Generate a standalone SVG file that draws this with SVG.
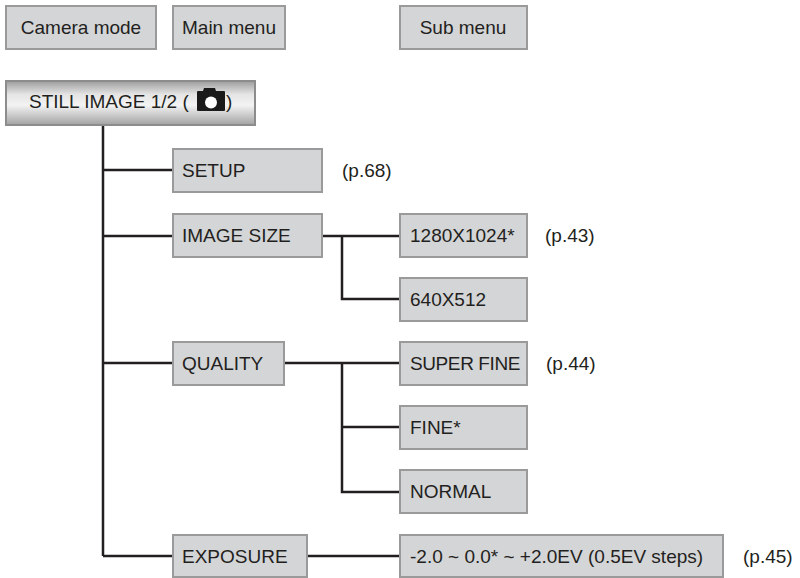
<svg xmlns="http://www.w3.org/2000/svg" width="800" height="578" viewBox="0 0 800 578">
<defs>
<linearGradient id="g" x1="0" y1="0" x2="0" y2="1">
<stop offset="0" stop-color="#9c9c9c"/>
<stop offset="0.3" stop-color="#e4e4e4"/>
<stop offset="0.55" stop-color="#f3f3f3"/>
<stop offset="1" stop-color="#a2a2a2"/>
</linearGradient>
</defs>
<style>
.b{fill:#d4d5d7;stroke:#9a9a9a;stroke-width:2}
.t{font-family:"Liberation Sans",Arial,sans-serif;font-size:19px;fill:#231f20}
.c{text-anchor:middle}
.l{fill:none;stroke:#231f20;stroke-width:2.5}
</style>
<rect width="800" height="578" fill="#fff"/>
<g id="connectors">
<path class="l" d="M103 125V556M103 170H172M103 236H172M103 363H172M103 556H172"/>
<path class="l" d="M322 236H399M342 236V299H399"/>
<path class="l" d="M284 363H399M342 363V492H399M342 427H399"/>
<path class="l" d="M307 556H399"/>
</g>
<g id="camera-mode"><rect class="b" x="6" y="6" width="150" height="43"/><text class="t c" x="81" y="34">Camera mode</text></g>
<g id="main-menu"><rect class="b" x="173" y="6" width="112" height="43"/><text class="t c" x="229" y="34">Main menu</text></g>
<g id="sub-menu"><rect class="b" x="400" y="6" width="127" height="43"/><text class="t c" x="463" y="34">Sub menu</text></g>
<g id="still-image">
<rect x="6" y="81" width="249" height="44" fill="url(#g)" stroke="#8c8c8c" stroke-width="2"/>
<text class="t" x="29" y="108">STILL IMAGE 1/2 (</text>
<path d="M198 91H203L204 88H215L216 91H224Q225 91 225 92V110Q225 111 224 111H198Q197 111 197 110V92Q197 91 198 91Z" fill="#1a1a1a"/>
<circle cx="211" cy="102.5" r="6" fill="#fff"/>
<text class="t" x="226" y="108">)</text>
</g>
<g id="setup"><rect class="b" x="173" y="149" width="149" height="43"/><text class="t" x="182" y="177">SETUP</text></g>
<text class="t" x="342" y="177">(p.68)</text>
<g id="image-size"><rect class="b" x="173" y="214" width="149" height="43"/><text class="t" x="182" y="242">IMAGE SIZE</text></g>
<g id="r1280"><rect class="b" x="400" y="214" width="127" height="43"/><text class="t" x="410" y="242">1280X1024*</text></g>
<text class="t" x="545" y="242">(p.43)</text>
<g id="r640"><rect class="b" x="400" y="278" width="127" height="43"/><text class="t" x="410" y="306">640X512</text></g>
<g id="quality"><rect class="b" x="173" y="342" width="111" height="43"/><text class="t" x="182" y="370">QUALITY</text></g>
<g id="super-fine"><rect class="b" x="400" y="342" width="127" height="43"/><text class="t" x="410" y="370" letter-spacing="-0.4">SUPER FINE</text></g>
<text class="t" x="546" y="370">(p.44)</text>
<g id="fine"><rect class="b" x="400" y="406" width="127" height="43"/><text class="t" x="410" y="434">FINE*</text></g>
<g id="normal"><rect class="b" x="400" y="470" width="127" height="43"/><text class="t" x="410" y="498">NORMAL</text></g>
<g id="exposure"><rect class="b" x="173" y="535" width="134" height="42"/><text class="t" x="182" y="563">EXPOSURE</text></g>
<g id="ev"><rect class="b" x="400" y="535" width="323" height="42"/><text class="t" x="410" y="563">-2.0 ~ 0.0* ~ +2.0EV (0.5EV steps)</text></g>
<text class="t" x="743" y="563">(p.45)</text>
</svg>
